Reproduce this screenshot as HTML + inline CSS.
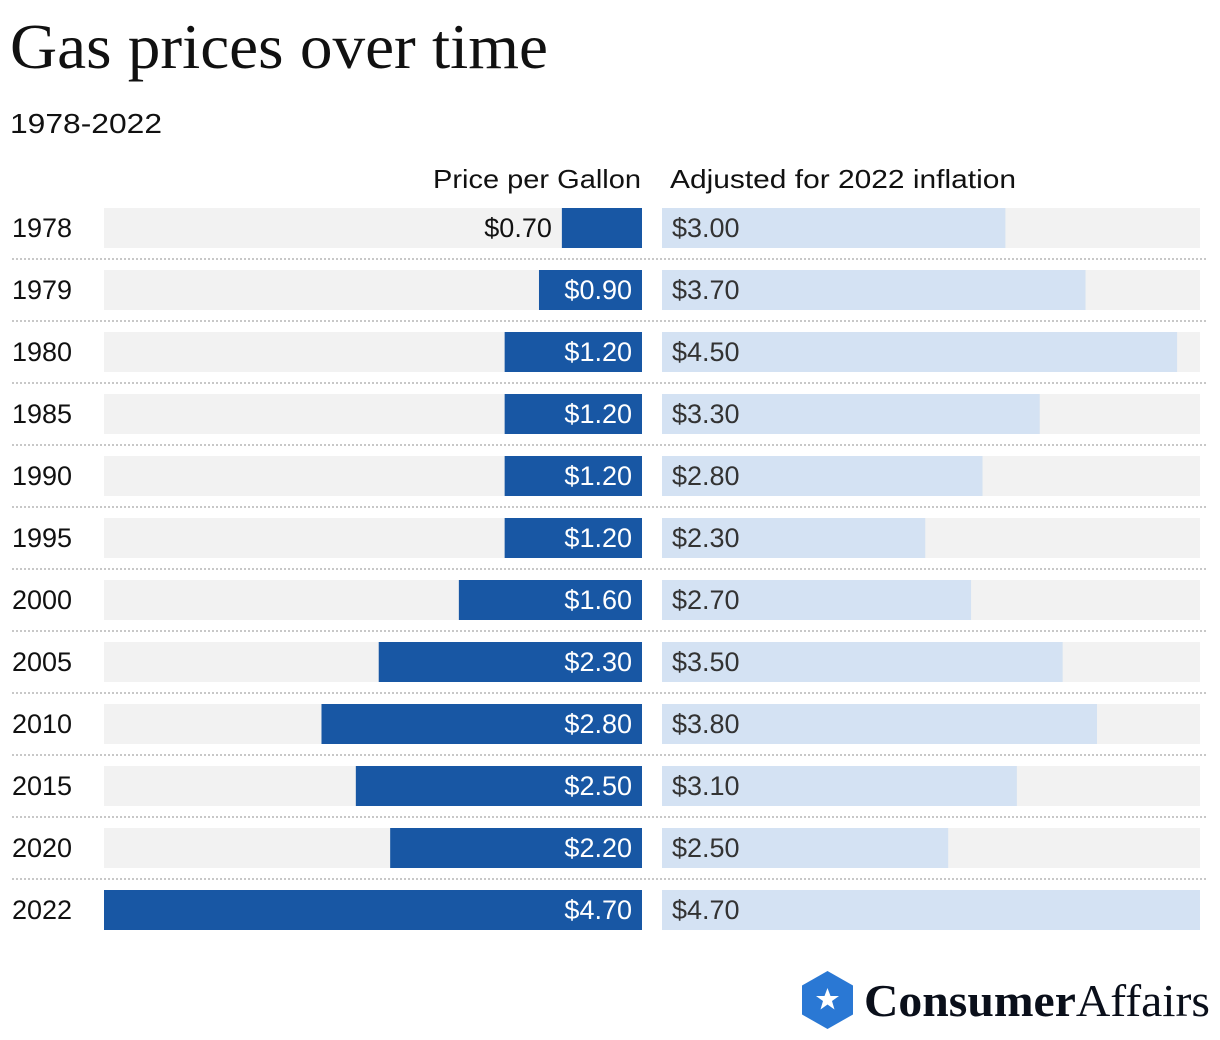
<!DOCTYPE html>
<html><head><meta charset="utf-8"><style>
html,body{margin:0;padding:0;background:#fff;}
svg{display:block;}
</style></head><body>
<svg id="chart" width="1220" height="1040" viewBox="0 0 1220 1040" xmlns="http://www.w3.org/2000/svg">
<text x="10" y="68" font-family="Liberation Serif, serif" font-size="64" fill="#111" textLength="538" lengthAdjust="spacingAndGlyphs">Gas prices over time</text>
<text x="10" y="133" font-family="Liberation Sans, sans-serif" font-size="28" fill="#111" textLength="152" lengthAdjust="spacingAndGlyphs">1978-2022</text>
<text x="641" y="188" text-anchor="end" font-family="Liberation Sans, sans-serif" font-size="26" fill="#111" textLength="208" lengthAdjust="spacingAndGlyphs">Price per Gallon</text>
<text x="670" y="188" font-family="Liberation Sans, sans-serif" font-size="26" fill="#111" textLength="346" lengthAdjust="spacingAndGlyphs">Adjusted for 2022 inflation</text>
<g id="rows"></g>
<g>
<polygon points="827.5,971 853,985.5 853,1014.5 827.5,1029 802,1014.5 802,985.5" fill="#2a78d4"/>
<polygon points="827.5,988 830.5,996 839,996 832,1001 834.5,1009.5 827.5,1004.5 820.5,1009.5 823,1001 816,996 824.5,996" fill="#fff"/>
<text x="864" y="1016" font-family="Liberation Serif, serif" font-size="46" fill="#0a0f1a" textLength="346" lengthAdjust="spacingAndGlyphs"><tspan font-weight="bold">Consumer</tspan><tspan>Affairs</tspan></text>
</g>
</svg>
<script>
const years = ["1978","1979","1980","1985","1990","1995","2000","2005","2010","2015","2020","2022"];
const nominalPrices = [0.70,0.90,1.20,1.20,1.20,1.20,1.60,2.30,2.80,2.50,2.20,4.70];
const adjustedPrices = [3.00,3.70,4.50,3.30,2.80,2.30,2.70,3.50,3.80,3.10,2.50,4.70];
const maxValue = 4.70;

const NS = "http://www.w3.org/2000/svg";
const g = document.getElementById("rows");
const leftEnd = 642, leftStart = 104, rightStart = 662, rightEnd = 1200;
const scaleL = v => (v / maxValue) * (leftEnd - leftStart);
const scaleR = v => (v / maxValue) * (rightEnd - rightStart);
const rowY = i => 208 + i * 62;
function mk(tag, attrs) {
  const e = document.createElementNS(NS, tag);
  for (const k in attrs) e.setAttribute(k, attrs[k]);
  return e;
}
const fmt = v => "$" + v.toFixed(2);
years.forEach((yr, i) => {
  const y = rowY(i);
  const lab = mk("text", {x: 12, y: y + 29, "font-family": "Liberation Sans, sans-serif", "font-size": 27, fill: "#111"});
  
  
  lab.textContent = yr; g.appendChild(lab);

  const bgL = mk("rect", {x: leftStart, y: y, width: leftEnd - leftStart, height: 40, fill: "#f2f2f2"});
  
  
  g.appendChild(bgL);
  const bgR = mk("rect", {x: rightStart, y: y, width: rightEnd - rightStart, height: 40, fill: "#f2f2f2"});
  
  
  g.appendChild(bgR);

  const w = scaleL(nominalPrices[i]);
  const b = mk("rect", {x: leftEnd - w, y: y, width: w, height: 40, fill: "#1857a4"});
  
  
  g.appendChild(b);
  const inside = w > 90;
  const t = mk("text", {x: inside ? leftEnd - 10 : leftEnd - w - 10, y: y + 29, "text-anchor": "end", "font-family": "Liberation Sans, sans-serif", "font-size": 27, fill: inside ? "#fff" : "#111"});
  
  
  t.textContent = fmt(nominalPrices[i]); g.appendChild(t);

  const w2 = scaleR(adjustedPrices[i]);
  const b2 = mk("rect", {x: rightStart, y: y, width: w2, height: 40, fill: "#d4e2f3"});
  
  
  g.appendChild(b2);
  const t2 = mk("text", {x: rightStart + 10, y: y + 29, "font-family": "Liberation Sans, sans-serif", "font-size": 27, fill: "#333"});
  
  
  t2.textContent = fmt(adjustedPrices[i]); g.appendChild(t2);

  if (i < years.length - 1) {
    const ln = mk("line", {x1: 12, x2: 1208, y1: y + 51, y2: y + 51, stroke: "#c8c8c8", "stroke-width": 2, "stroke-dasharray": "2,2"});
    
    
    g.appendChild(ln);
  }
});
</script>
</body></html>
